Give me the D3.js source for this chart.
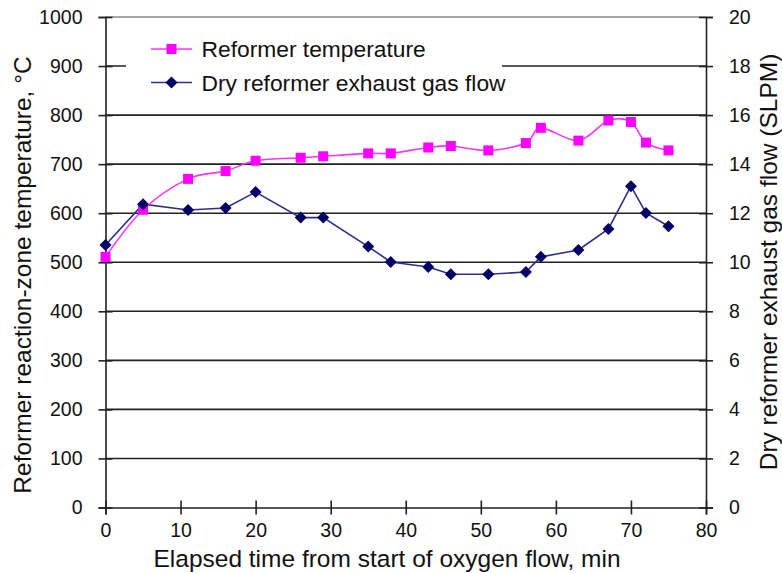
<!DOCTYPE html>
<html>
<head>
<meta charset="utf-8">
<script src="https://cdn.jsdelivr.net/npm/d3@7"></script>
<style>
  body { margin: 0; background: #fff; }
  text { font-family: "Liberation Sans", Arial, sans-serif; fill: #111; }
</style>
</head>
<body>
<svg id="chart"></svg>
<script>
var width = 782, height = 573;

// data
var minutes   = [0, 5, 11, 16, 20, 26, 29, 35, 38, 43, 46, 51, 56, 58, 63, 67, 70, 72, 75];
var tempC     = [511, 607, 670, 686, 707, 713, 716, 722, 722, 734, 737, 728, 743, 774, 748, 789, 786, 744, 728];
var flowSLPM  = [10.7, 12.37, 12.13, 12.21, 12.86, 11.82, 11.82, 10.64, 10.01, 9.81, 9.51, 9.51, 9.6, 10.22, 10.5, 11.36, 13.1, 12.01, 11.47];
var xTicks    = [0, 10, 20, 30, 40, 50, 60, 70, 80];
var yTicksL   = [0, 100, 200, 300, 400, 500, 600, 700, 800, 900, 1000];
var yTicksR   = [0, 2, 4, 6, 8, 10, 12, 14, 16, 18, 20];
var seriesNames = ["Reformer temperature", "Dry reformer exhaust gas flow"];

// plot box
var pL = 105.5, pR = 706, pT = 17, pB = 507.5;

const svg = d3.select('svg#chart')
  .attr('width', width)
  .attr('height', height);

var x = d3.scaleLinear().domain([0, 80]).range([pL, pR]);
var yL = d3.scaleLinear().domain([0, 1000]).range([pB, pT]);
var yR = d3.scaleLinear().domain([0, 20]).range([pB, pT]);

// gridlines
svg.append("g").selectAll("line")
  .data(yTicksL.slice(1))
  .enter().append("line")
    .attr("x1", pL).attr("x2", pR)
    .attr("y1", d => yL(d)).attr("y2", d => yL(d))
    .style("stroke", d => d == 1000 ? "#888" : "#222")
    .style("stroke-width", 1.6);

// legend box (white, covers grid)
svg.append("rect")
  .attr("x", 126).attr("y", 30)
  .attr("width", 376).attr("height", 70)
  .style("fill", "#fff");

// axes
var tickFs = "19.5px", titleFs = "24.5px", legFs = "22.8px";
var axL = svg.append("g").attr("transform", "translate(" + pL + ",0)")
  .call(d3.axisLeft(yL).tickValues(yTicksL).tickFormat(d3.format("d")).tickSize(7).tickPadding(16));
var axR = svg.append("g").attr("transform", "translate(" + pR + ",0)")
  .call(d3.axisRight(yR).tickValues(yTicksR).tickSize(7).tickPadding(16));
var axB = svg.append("g").attr("transform", "translate(0," + pB + ")")
  .call(d3.axisBottom(x).tickValues(xTicks).tickSize(7).tickPadding(9));

[axL, axR, axB].forEach(function(a){
  a.select(".domain").style("stroke", "#222").style("stroke-width", 1.6);
  a.selectAll(".tick line").style("stroke", "#222").style("stroke-width", 1.6);
  a.selectAll("text").style("font-size", tickFs).style("font-family", "'Liberation Sans', Arial, sans-serif").style("fill", "#111");
});
// cross ticks
axL.selectAll(".tick line").attr("x1", 7);
axR.selectAll(".tick line").attr("x1", -7);
axB.selectAll(".tick line").attr("y1", -7);

// series
var tData = minutes.map((m, i) => [m, tempC[i]]);
var fData = minutes.map((m, i) => [m, flowSLPM[i]]);

svg.append("path")
  .datum(fData)
  .attr("d", d3.line().x(d => x(d[0])).y(d => yR(d[1])))
  .style("fill", "none").style("stroke", "#2e2e8c").style("stroke-width", 1.6);

svg.append("path")
  .datum(tData)
  .attr("d", d3.line().curve(d3.curveCatmullRom.alpha(0)).x(d => x(d[0])).y(d => yL(d[1])))
  .style("fill", "none").style("stroke", "#ff33ff").style("stroke-width", 1.6);

var diamond = "M0,-6L6,0L0,6L-6,0Z";

svg.append("g").selectAll("rect")
  .data(tData)
  .enter().append("rect")
    .attr("x", d => x(d[0]) - 5).attr("y", d => yL(d[1]) - 5)
    .attr("width", 10).attr("height", 10)
    .style("fill", "#ff00ff");

svg.append("g").selectAll("path")
  .data(fData)
  .enter().append("path")
    .attr("d", diamond)
    .attr("transform", d => "translate(" + x(d[0]) + "," + yR(d[1]) + ")")
    .style("fill", "#000066");

// legend
var leg = svg.append("g");
var legY = [49, 82.5];
leg.append("line").attr("x1", 151).attr("x2", 192).attr("y1", legY[0]).attr("y2", legY[0])
  .style("stroke", "#ff33ff").style("stroke-width", 1.6);
leg.append("rect").attr("x", 166.5).attr("y", legY[0] - 5).attr("width", 10).attr("height", 10)
  .style("fill", "#ff00ff");
leg.append("line").attr("x1", 151).attr("x2", 192).attr("y1", legY[1]).attr("y2", legY[1])
  .style("stroke", "#2e2e8c").style("stroke-width", 1.6);
leg.append("path").attr("d", diamond).attr("transform", "translate(171.5," + legY[1] + ")")
  .style("fill", "#000066");
leg.selectAll("text.lg")
  .data(seriesNames)
  .enter().append("text")
    .attr("class", "lg")
    .attr("x", 201.5)
    .attr("y", (d, i) => legY[i] + 8)
    .style("font-size", legFs)
    .text(d => d);

// axis titles
svg.append("text")
  .attr("transform", "translate(31,275) rotate(-90)")
  .attr("text-anchor", "middle")
  .style("font-size", titleFs)
  .text("Reformer reaction-zone temperature, \u00b0C");

svg.append("text")
  .attr("transform", "translate(777,262) rotate(-90)")
  .attr("text-anchor", "middle")
  .style("font-size", titleFs)
  .text("Dry reformer exhaust gas flow (SLPM)");

svg.append("text")
  .attr("x", 387).attr("y", 567)
  .attr("text-anchor", "middle")
  .style("font-size", titleFs)
  .text("Elapsed time from start of oxygen flow, min");
</script>
</body>
</html>
